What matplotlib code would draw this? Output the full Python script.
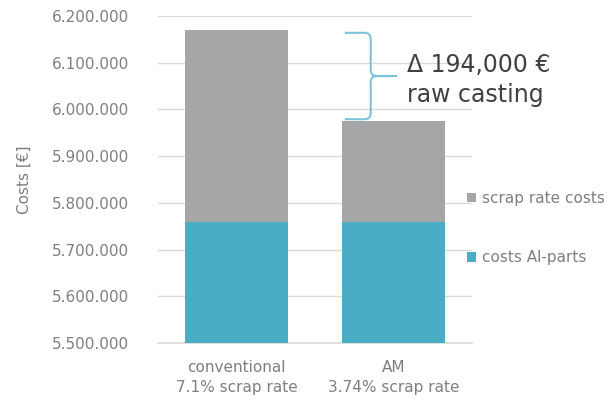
import matplotlib
matplotlib.use("Agg")
import matplotlib.pyplot as plt
from matplotlib.path import Path
from matplotlib.patches import PathPatch, Patch
from matplotlib.ticker import FuncFormatter, MultipleLocator

# Data
categories = ["conventional\n7.1% scrap rate", "AM\n3.74% scrap rate"]
al_parts_costs = [5760000, 5760000]
scrap_rate_costs = [409000, 215000]
delta_label = "\u0394 194,000 \u20ac"
delta_note = "raw casting"

GREY = "#a6a6a6"
BLUE = "#4bacc6"
TEXT = "#7f7f7f"
GRID = "#d9d9d9"

plt.rcParams["font.family"] = ["DejaVu Sans"]

fig = plt.figure(figsize=(6.16, 4.01), dpi=100)
ax = fig.add_axes([158 / 616, 1 - 343 / 401, (472 - 158) / 616, (343 - 16) / 401])

x = list(range(len(categories)))
width = 0.65
ax.bar(x, al_parts_costs, width=width, color=BLUE, zorder=2, label="costs Al-parts")
ax.bar(x, scrap_rate_costs, width=width, bottom=al_parts_costs, color=GREY, zorder=2,
       label="scrap rate costs")

ax.set_xlim(-0.5, 1.5)
ax.set_ylim(5500000, 6200000)
ax.yaxis.set_major_locator(MultipleLocator(100000))
ax.yaxis.set_major_formatter(FuncFormatter(lambda v, p: f"{v:,.0f}".replace(",", ".")))
ax.grid(axis="y", color=GRID, linewidth=1.0, zorder=0)
ax.axhline(5500000, color=GRID, linewidth=1.2, zorder=1, clip_on=False)
ax.set_axisbelow(True)
for s in ax.spines.values():
    s.set_visible(False)
ax.tick_params(axis="y", length=0, pad=21, labelsize=11, labelcolor=TEXT)
ax.tick_params(axis="x", length=0, pad=12, labelsize=11, labelcolor=TEXT)
ax.set_xticks(x)
ax.set_xticklabels(categories, linespacing=1.45)

fig.text(24 / 616, 1 - 180 / 401, "Costs [\u20ac]", rotation=90, ha="center", va="center",
         fontsize=11, color=TEXT)

# Curly brace spanning the difference between the two totals
totals = [a + b for a, b in zip(al_parts_costs, scrap_rate_costs)]
yt = totals[0] - 5000
yb = totals[1] + 4000
ym = (yt + yb) / 2
xl, xs, xt = 0.69, 0.855, 1.02
rx, ry = 0.04, 13000
verts = [
    (xl, yt), (xs - rx, yt), (xs, yt), (xs, yt - ry), (xs, ym + ry), (xs, ym), (xs + rx, ym), (xt, ym),
    (xt, ym), (xs + rx, ym), (xs, ym), (xs, ym - ry), (xs, yb + ry), (xs, yb), (xs - rx, yb), (xl, yb),
]
codes = [
    Path.MOVETO, Path.LINETO, Path.CURVE3, Path.CURVE3, Path.LINETO, Path.CURVE3, Path.CURVE3, Path.LINETO,
    Path.MOVETO, Path.LINETO, Path.CURVE3, Path.CURVE3, Path.LINETO, Path.CURVE3, Path.CURVE3, Path.LINETO,
]
ax.add_patch(PathPatch(Path(verts, codes), facecolor="none", edgecolor="#7cc3dc",
                       linewidth=1.5, zorder=3, clip_on=False))

ax.text(1.086, 6080000, delta_label, fontsize=17, color="#404040", va="baseline", ha="left",
        clip_on=False, zorder=4)
ax.text(1.086, 6016000, delta_note, fontsize=17, color="#404040", va="baseline", ha="left",
        clip_on=False, zorder=4)

handles = [Patch(facecolor=GREY, label="scrap rate costs"),
           Patch(facecolor=BLUE, label="costs Al-parts")]
fig.legend(handles=handles, loc="center left", bbox_to_anchor=(467 / 616, 1 - 228 / 401),
           frameon=False, fontsize=11, labelcolor=TEXT, handlelength=0.6, handleheight=0.6,
           handletextpad=0.35, labelspacing=2.9, borderpad=0, borderaxespad=0)

fig.savefig("out.png", dpi=100)
